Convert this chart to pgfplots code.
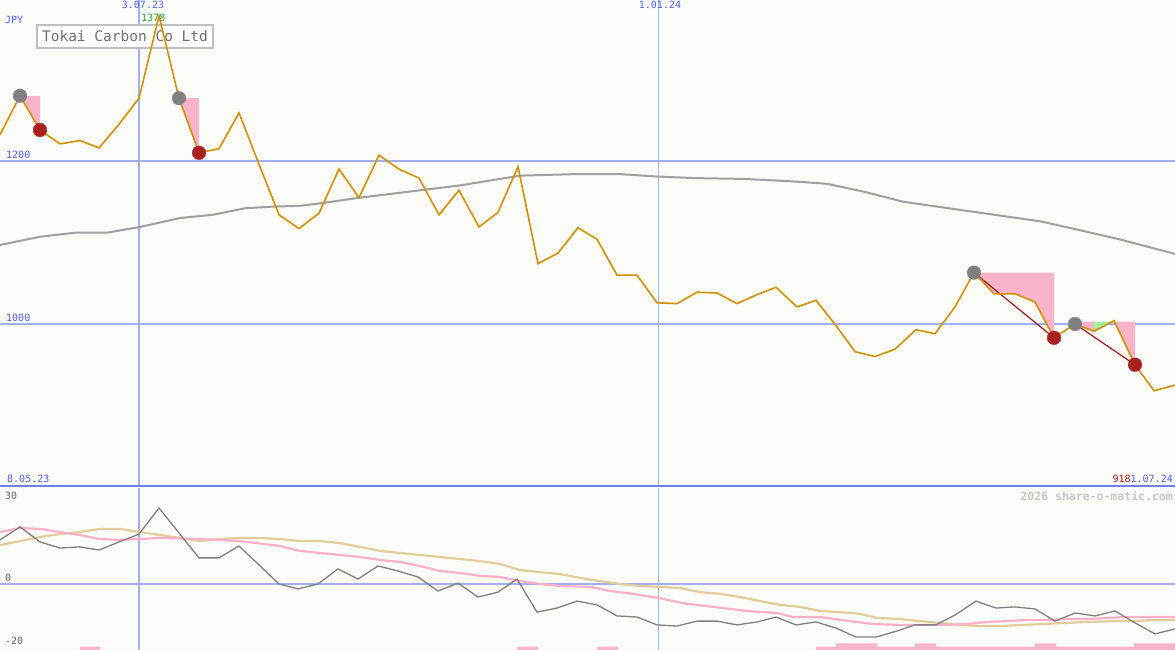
\documentclass[border=0pt]{standalone}
\usepackage{pgfplots}
\pgfplotsset{compat=1.18}
\usepackage{pgfplotstable}
\usepackage{fontspec}
\setmonofont{DejaVu Sans Mono}
\definecolor{bgc}{HTML}{FCFDF9}
\definecolor{gridblue}{HTML}{A0B0F0}
\definecolor{sepblue}{HTML}{7080E8}
\definecolor{lblue}{HTML}{5060F0}
\definecolor{pricec}{HTML}{D48F00}
\definecolor{mac}{HTML}{A0A0A0}
\definecolor{pinkfill}{HTML}{F8B4C8}
\definecolor{greenfill}{HTML}{A0F0A0}
\definecolor{darkred}{HTML}{A01818}
\definecolor{redc}{HTML}{A82020}
\definecolor{grayc}{HTML}{808080}
\definecolor{pinkline}{HTML}{FFB0C8}
\definecolor{tanline}{HTML}{E0CC9C}
\definecolor{greenlbl}{HTML}{30A030}
\definecolor{titlegray}{HTML}{707070}

\pgfplotstableread{
x y
0 1232
20 1280
40 1238
60 1221
80 1225
99 1216
119 1245
139 1277
159 1378
179 1277
199 1210
219 1215
239 1259
259 1196
279 1134
299 1117
319 1136
339 1190
359 1155
379 1207
399 1190
419 1179
439 1134
459 1164
479 1119
498 1137
518 1193
538 1074
558 1087
578 1118
597 1104
617 1060
637 1060
657 1026
677 1025
697 1039
717 1038
737 1025
757 1036
776 1045
797 1021
816 1029
836 998
855 966
875 960
895 969
916 993
935 988
955 1021
974 1063
994 1037
1015 1037
1035 1027
1054 983
1075 1000
1094 991
1114 1004
1135 950
1154 918
1175 925
}\price

\pgfplotstableread{
x y
0 1097
40 1107
75 1112
107 1112
140 1119
180 1130
213 1134
245 1142
273 1144
300 1145
320 1148
360 1155
420 1164
460 1170
520 1182
580 1184
618 1184
656 1181
694 1179
743 1178
792 1175
827 1172
865 1162
903 1150
960 1140
1000 1133
1040 1126
1073 1117
1119 1104
1175 1086
}\mavg

\pgfplotstableread{
x y
0 15.2
20 19.7
40 14.5
60 12.4
80 12.8
99 11.7
119 14.5
139 17.2
159 26.2
179 17.6
199 9.0
219 9.0
239 13.1
259 6.6
279 0
298 -1.7
318 0
338 5.2
358 1.7
378 6.2
398 4.5
418 2.4
438 -2.4
458 0.3
478 -4.5
498 -2.8
517 1.7
537 -9.7
557 -8.3
577 -5.9
597 -7.2
617 -11.0
637 -11.4
657 -14.1
677 -14.5
697 -12.8
717 -12.8
737 -14.1
757 -13.1
776 -11.4
796 -14.1
816 -13.1
836 -15.2
856 -18.3
876 -18.3
897 -16.2
915 -14.1
936 -14.1
955 -10.7
976 -5.9
996 -8.3
1015 -7.9
1035 -8.6
1055 -12.8
1075 -10.0
1095 -11.0
1115 -9.3
1135 -13.4
1155 -17.2
1175 -15.5
}\osc

\pgfplotstableread{
x y
0 17.9
20 19.3
40 19.0
60 17.9
80 16.9
99 15.5
120 15.2
140 15.5
160 15.9
200 15.5
240 14.8
280 13.1
300 11.4
320 10.7
340 10.0
360 9.3
380 8.3
400 7.6
420 6.2
440 4.5
460 3.8
480 2.8
500 2.4
520 1.0
540 0
560 -0.7
590 -1.0
610 -2.4
633 -3.4
658 -4.8
683 -6.6
713 -7.9
747 -9.3
777 -10.0
793 -11.4
820 -11.4
850 -12.8
873 -13.8
900 -14.1
945 -14.1
967 -13.8
987 -13.1
1007 -12.8
1027 -12.4
1047 -12.4
1067 -12.1
1087 -12.1
1107 -11.7
1127 -11.4
1175 -11.4
}\pinkma

\pgfplotstableread{
x y
0 13.4
20 14.8
40 16.2
60 17.2
80 17.9
100 19.0
120 19.0
140 17.9
160 16.9
180 15.9
200 14.8
220 15.5
240 15.9
260 15.9
280 15.5
300 14.8
320 14.8
340 14.1
360 12.8
380 11.4
400 10.7
420 10.0
440 9.3
460 8.6
480 7.9
500 6.9
520 4.8
540 4.1
560 3.4
580 2.1
600 1.0
620 0
640 -0.7
660 -1.0
680 -1.4
700 -2.8
720 -3.4
740 -4.5
760 -5.9
780 -7.2
800 -7.9
820 -9.3
840 -9.7
860 -10.3
877 -11.7
900 -12.1
920 -12.8
940 -13.4
960 -14.1
980 -14.5
1000 -14.5
1023 -14.1
1043 -13.8
1067 -13.4
1087 -13.1
1113 -12.8
1133 -12.8
1153 -12.4
1175 -12.4
}\tanma

\pgfplotstableread{
x h
0 0
80 3.3
100 0
517 3.3
538 0
597 3.3
618 0
816 3.3
836 6.7
877 3.3
915 6.7
936 3.3
1035 6.7
1056 3.3
1134 6.7
1175 6.7
}\vol

\begin{document}
\begin{tikzpicture}
\useasboundingbox (0,0) rectangle (1175pt,650pt);
\fill[bgc] (0,0) rectangle (1175pt,650pt);

% ---------- main price panel ----------
\begin{axis}[at={(0,163pt)}, anchor=south west, width=1175pt, height=487pt,
  scale only axis, xmin=0, xmax=1175, ymin=800, ymax=1397.5,
  ticks=none, axis line style={draw=none}]
\draw[gridblue, line width=2pt] (axis cs:0,1200) -- (axis cs:1175,1200);
\draw[gridblue, line width=2pt] (axis cs:0,1000) -- (axis cs:1175,1000);
\draw[gridblue, line width=2pt] (axis cs:139,800) -- (axis cs:139,1397.5);
\draw[gridblue, line width=1pt] (axis cs:658,800) -- (axis cs:658,1397.5);
\node[draw=black!25, line width=1.8pt, fill=white, text=titlegray, font=\ttfamily\fontsize{14.5}{16}\selectfont, inner xsep=5pt, inner ysep=3pt, minimum height=23pt] at (axis cs:125,1353) {Tokai Carbon Co Ltd};
\node[anchor=west, text=greenlbl, font=\ttfamily\fontsize{10}{12}\selectfont, inner sep=0pt] at (axis cs:141,1376) {1378};
% drawdown areas
\addplot[fill=pinkfill, draw=none] coordinates {(20,1280) (40,1280) (40,1238)} -- cycle;
\addplot[fill=pinkfill, draw=none] coordinates {(179,1277) (199,1277) (199,1210)} -- cycle;
\addplot[fill=pinkfill, draw=none] coordinates {(974,1063) (1054,1063) (1054,983) (1035,1027) (1015,1037) (994,1037)} -- cycle;
\addplot[fill=pinkfill, draw=none] coordinates {(1075,1003) (1094,1003) (1094,991) (1075,1000)} -- cycle;
\addplot[fill=greenfill, draw=none] coordinates {(1094,1003) (1114,1003) (1094,991)} -- cycle;
\addplot[fill=pinkfill, draw=none] coordinates {(1114,1003) (1135,1003) (1135,950)} -- cycle;
% moving average
\addplot[mac, line width=2pt] table[x=x,y=y] {\mavg};
% peak / trough markers
\addplot[only marks, mark=*, mark size=6.8pt, grayc, mark options={draw=grayc, fill=grayc}] coordinates {(20,1280) (179,1277) (974,1063) (1075,1000)};
\addplot[only marks, mark=*, mark size=6.8pt, redc, mark options={draw=redc, fill=redc}] coordinates {(40,1238) (199,1210) (1054,983) (1135,950)};
\addplot[darkred, line width=1.2pt] coordinates {(974,1063) (1054,983)};
\addplot[darkred, line width=1.2pt] coordinates {(1075,1000) (1135,950)};
% price
\addplot[pricec, line width=1.6pt] table[x=x,y=y] {\price};
% separator
\draw[sepblue, line width=3pt] (axis cs:0,800) -- (axis cs:1175,800);
% labels
\node[anchor=west, text=lblue, font=\ttfamily\fontsize{10}{12}\selectfont, inner sep=0pt] at (axis cs:5,1373) {JPY};
\node[anchor=base west, text=lblue, font=\ttfamily\fontsize{10}{12}\selectfont, inner sep=0pt] at (axis cs:6,1203) {1200};
\node[anchor=base west, text=lblue, font=\ttfamily\fontsize{10}{12}\selectfont, inner sep=0pt] at (axis cs:6,1003) {1000};
\node[anchor=north, text=lblue, font=\ttfamily\fontsize{10}{12}\selectfont, inner sep=1pt] at (axis cs:143,1397.5) {3.07.23};
\node[anchor=north, text=lblue, font=\ttfamily\fontsize{10}{12}\selectfont, inner sep=1pt] at (axis cs:660,1397.5) {1.01.24};
\node[anchor=base west, text=lblue, font=\ttfamily\fontsize{10}{12}\selectfont, inner sep=0pt] at (axis cs:7,806) {8.05.23};
\node[anchor=base east, text=lblue, font=\ttfamily\fontsize{10}{12}\selectfont, inner sep=0pt] at (axis cs:1173,806) {{\color{darkred}918}1.07.24};
\end{axis}

% ---------- volume bars ----------
\begin{axis}[at={(0,0)}, anchor=south west, width=1175pt, height=162pt,
  scale only axis, xmin=0, xmax=1175, ymin=0, ymax=162,
  ticks=none, axis line style={draw=none}]
\addplot[const plot, fill=pinkfill, draw=none] table[x=x,y=h] {\vol} \closedcycle;
\end{axis}

% ---------- lower indicator panel ----------
\begin{axis}[at={(0,0)}, anchor=south west, width=1175pt, height=162pt,
  scale only axis, xmin=0, xmax=1175, ymin=-22.76, ymax=33.1,
  ticks=none, axis line style={draw=none}]
\draw[gridblue, line width=2pt] (axis cs:0,0) -- (axis cs:1175,0);
\draw[gridblue, line width=2pt] (axis cs:139,-22.76) -- (axis cs:139,33.1);
\draw[gridblue, line width=1pt] (axis cs:658,-22.76) -- (axis cs:658,33.1);
\addplot[tanline, line width=2.2pt] table[x=x,y=y] {\tanma};
\addplot[pinkline, line width=2.2pt] table[x=x,y=y] {\pinkma};
\addplot[grayc, line width=1.3pt] table[x=x,y=y] {\osc};
\node[anchor=west, text=black!60, font=\ttfamily\fontsize{10}{12}\selectfont, inner sep=0pt] at (axis cs:5,30.5) {30};
\node[anchor=west, text=black!60, font=\ttfamily\fontsize{10}{12}\selectfont, inner sep=0pt] at (axis cs:5,2.1) {0};
\node[anchor=west, text=black!60, font=\ttfamily\fontsize{10}{12}\selectfont, inner sep=0pt] at (axis cs:5,-19.7) {-20};
\node[anchor=east, text=black!22, font=\ttfamily\bfseries\fontsize{11.5}{13}\selectfont, inner sep=0pt] at (axis cs:1173,30.3) {2026 share-o-matic.com};
\end{axis}
\end{tikzpicture}
\end{document}
